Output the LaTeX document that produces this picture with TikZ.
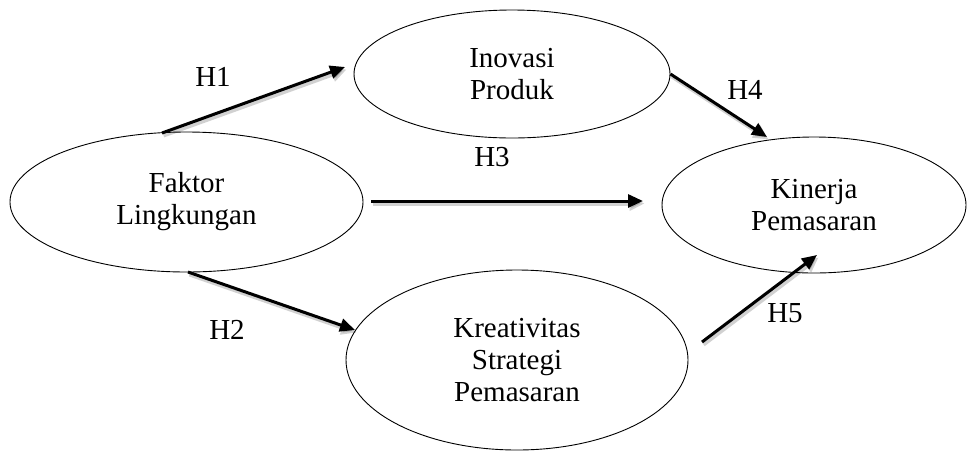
\documentclass[tikz,border=0pt]{standalone}
\usepackage{fontspec}
\setmainfont{Liberation Serif}
\usetikzlibrary{shapes.geometric,arrows.meta}
\tikzset{
  ell/.style={ellipse,draw=black,line width=0.9pt,inner sep=0pt,align=center,
    font=\fontsize{29}{32}\selectfont},
  hyp/.style={line width=3pt,-{Triangle[length=15pt,width=13pt]},shorten >=0pt},
  hshadow/.style={line width=4pt,draw=black,opacity=0.18,-{Triangle[length=15pt,width=14pt]},
    transform canvas={shift={(1.5pt,-2.5pt)}}},
  lab/.style={font=\fontsize{29}{32}\selectfont,inner sep=0pt}
}
\begin{document}
\begin{tikzpicture}[x=1pt,y=-1pt]
\useasboundingbox[fill=white] (0,0) rectangle (968,451);
\node[ell,minimum width=353pt,minimum height=140pt] (F) at (186.5,202) {Faktor\\Lingkungan};
\node[ell,minimum width=316pt,minimum height=128pt] (I) at (512,74) {Inovasi\\Produk};
\node[ell,minimum width=304pt,minimum height=136pt] (K) at (814,205) {Kinerja\\Pemasaran};
\node[ell,minimum width=342pt,minimum height=180pt] (S) at (517,360) {Kreativitas\\Strategi\\Pemasaran};
\coordinate (h1s) at (162,133);
\coordinate (h1e) at (345,67);
\coordinate (h4e) at (767,137);
\coordinate (h3s) at (371,201);
\coordinate (h3e) at (643,201);
\coordinate (h2s) at (188,272);
\coordinate (h2e) at (355,330);
\coordinate (h5s) at (702,342);
\coordinate (h5e) at (817,255);
\foreach \a/\b in {h1s/h1e, I.east/h4e, h3s/h3e, h2s/h2e, h5s/h5e}
  \draw[hshadow] (\a) -- (\b);
\draw[hyp] (h1s) -- (h1e);
\draw[hyp] (I.east) -- (h4e);
\draw[hyp] (h3s) -- (h3e);
\draw[hyp] (h2s) -- (h2e);
\draw[hyp] (h5s) -- (h5e);
\node[lab] (l1) at (213,77) {H1};
\node[lab] (l4) at (745,90) {H4};
\node[lab] (l3) at (492,157) {H3};
\node[lab] (l2) at (227,330) {H2};
\node[lab] (l5) at (785,313) {H5};
\end{tikzpicture}
\end{document}
